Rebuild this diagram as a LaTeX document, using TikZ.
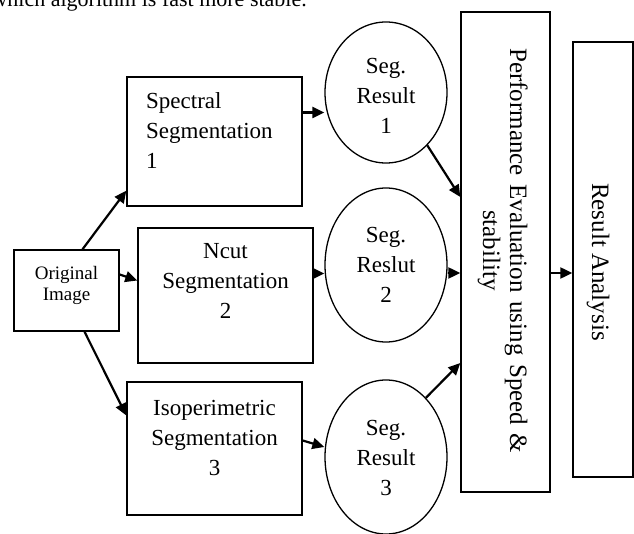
\documentclass[tikz,border=0pt]{standalone}
\usepackage{fontspec}
\setmainfont{Liberation Serif}
\usetikzlibrary{arrows.meta,shapes.geometric}
\begin{document}
\begin{tikzpicture}[x=1pt,y=-1pt,
  box/.style={draw,line width=1.4pt,inner sep=0pt},
  oval/.style={draw,ellipse,line width=1.3pt,inner sep=0pt,minimum width=122pt},
  txt/.style={font=\fontsize{23}{30}\selectfont,inner sep=0pt,align=center},
  rtxt/.style={font=\fontsize{25}{30}\selectfont,inner sep=0pt,rotate=-90,anchor=base west},
  arr/.style={line width=2.2pt,-{Triangle[length=12pt,width=11pt]}}]
\useasboundingbox (0,0) rectangle (634,534);

% top (cut) line of running text
\node[font=\fontsize{22}{26}\selectfont,anchor=base east,inner sep=0pt] (toptext) at (307,7) {which algorithm is fast more stable.};

% boxes
\node[box,minimum width=105pt,minimum height=81pt] (orig) at (66.5,290.5) {};
\node[box,minimum width=175pt,minimum height=129pt] (spec) at (214.5,141.5) {};
\node[box,minimum width=175pt,minimum height=135pt] (ncut) at (225.5,295.5) {};
\node[box,minimum width=175pt,minimum height=133pt] (iso) at (214.5,448.5) {};
\node[box,minimum width=89pt,minimum height=480pt] (perf) at (505.5,252) {};
\node[box,minimum width=60pt,minimum height=435pt] (res) at (603,259.5) {};

% ellipses
\node[oval,minimum height=141pt] (c1) at (386,92.5) {};
\node[oval,minimum height=154pt] (c2) at (386,265) {};
\node[oval,minimum height=154pt] (c3) at (386,457) {};

% texts
\node[font=\fontsize{19}{21}\selectfont,inner sep=0pt,align=center] (origt) at (66.5,285) {Original\\Image};
\node[txt,align=left,anchor=west] (spect) at (146,131) {Spectral\\Segmentation\\1};
\node[txt] (ncutt) at (225.5,281) {Ncut\\Segmentation\\2};
\node[txt] (isot) at (214.5,438) {Isoperimetric\\Segmentation\\3};
\node[txt] (c1t) at (386,96) {Seg.\\Result\\1};
\node[txt] (c2t) at (386,265) {Seg.\\Reslut\\2};
\node[txt] (c3t) at (386,458) {Seg.\\Result\\3};
\node[rtxt] (perft1) at (510,48) {\makebox[405pt][s]{Performance Evaluation using Speed \&}};
\node[rtxt] (perft2) at (483,210) {stability};
\node[rtxt] (rest) at (592,183) {Result Analysis};

% connectors
\draw[arr] ([xshift=16pt]orig.north) -- ([yshift=16pt]spec.south west);
\draw[arr] ([yshift=16pt]orig.east) -- ([yshift=15pt]ncut.west);
\draw[arr] ([xshift=18pt]orig.south) -- ([yshift=33pt]iso.west);

\coordinate (s4) at ([yshift=29pt]spec.east);
\draw[arr] (s4) -- (c1.west |- s4);
\coordinate (s5) at ([yshift=22pt]ncut.east);
\draw[arr] (s5) -- (c2.west |- s5);
\draw[arr] ([yshift=8pt]iso.east) -- ([yshift=10pt]c3.west);

\draw[arr] (c1.308) -- ([yshift=55pt]perf.west);
\coordinate (s8) at ([yshift=-8pt]c2.east);
\draw[arr] (s8) -- (perf.west |- s8);
\draw[arr] (c3.56) -- ([yshift=-111pt]perf.west);

\coordinate (s10) at ([yshift=-21pt]perf.east);
\draw[arr] (s10) -- (res.west |- s10);
\end{tikzpicture}
\end{document}
